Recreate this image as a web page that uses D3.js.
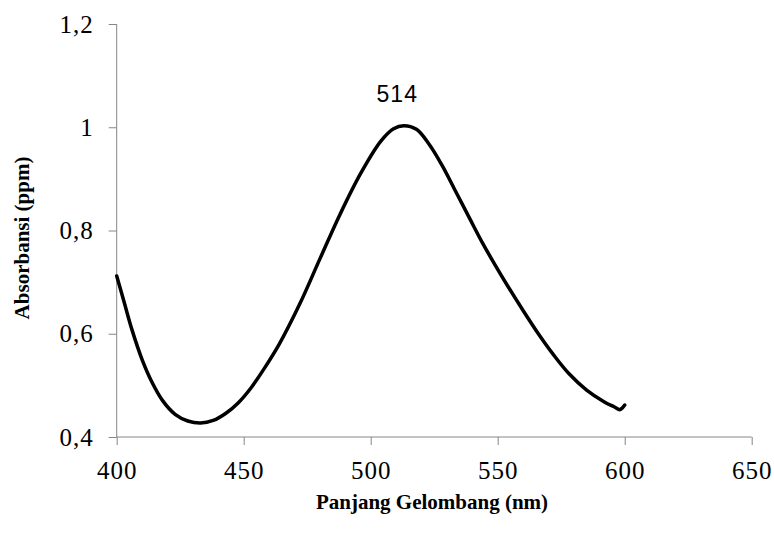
<!DOCTYPE html>
<html lang="en">
<head>
<meta charset="utf-8">
<title>Absorbansi</title>
<style>
  body { margin: 0; background: #fff; }
  text { fill: #000; }
</style>
</head>
<body>
<svg width="774" height="543"></svg>

<script src="https://cdn.jsdelivr.net/npm/d3@7"></script>
<script>
// values
var wavelength = [400, 403, 406, 410, 414, 418, 423, 428, 433, 438, 443, 448, 453,
                  458, 464, 472, 480, 488, 496, 504, 509, 513, 518, 523, 528, 533,
                  539, 544, 549, 554, 560, 566, 572, 578, 585, 592, 596, 598, 599, 600];
var absorbance = [0.712, 0.660, 0.608, 0.550, 0.505, 0.471, 0.444, 0.431, 0.427, 0.432,
                  0.446, 0.467, 0.496, 0.532, 0.580, 0.657, 0.745, 0.832, 0.910, 0.973,
                  0.997, 1.003, 0.996, 0.967, 0.927, 0.880, 0.823, 0.776, 0.733, 0.692,
                  0.645, 0.600, 0.559, 0.523, 0.491, 0.468, 0.458, 0.453, 0.456, 0.462];
var xTicks = [400, 450, 500, 550, 600, 650];
var yTicks = [0.4, 0.6, 0.8, 1.0, 1.2];
var peakLabel = { x: 514, y: 1.003, text: "514" };

var svg = d3.select("svg");
var serif = "'Liberation Serif', 'Times New Roman', serif";

var x = d3.scaleLinear().domain([400, 650]).range([116.7, 751.7]);
var y = d3.scaleLinear().domain([0.4, 1.2]).range([437, 24]);

var fmt = function(d) { return d3.format("~g")(d).replace(".", ","); };

// y axis
var gy = svg.append("g")
    .attr("transform", "translate(" + x.range()[0] + ",0)")
    .call(d3.axisLeft(y).tickValues(yTicks).tickSize(8).tickPadding(15).tickFormat(fmt));

// x axis
var gx = svg.append("g")
    .attr("transform", "translate(0," + y.range()[0] + ")")
    .call(d3.axisBottom(x).tickValues(xTicks).tickSize(8).tickPadding(16).tickFormat(d3.format("d")));

[gx, gy].forEach(function(g) {
    g.select(".domain").attr("stroke", "#868686");
    g.selectAll(".tick line").attr("stroke", "#868686");
    g.selectAll(".tick text")
        .attr("font-family", serif)
        .attr("font-size", 25)
        .attr("letter-spacing", 1)
        .attr("fill", "#000");
});
gy.select(".domain").attr("d", "M0," + y.range()[1] + "V" + y.range()[0]);
gx.select(".domain").attr("d", "M" + x.range()[0] + ",0H" + x.range()[1]);

// spectrum
var pts = wavelength.map(function(w, i) { return [w, absorbance[i]]; });
var line = d3.line()
    .x(function(d) { return x(d[0]); })
    .y(function(d) { return y(d[1]); })
    .curve(d3.curveCatmullRom.alpha(0.5));

svg.append("path")
    .datum(pts)
    .attr("fill", "none")
    .attr("stroke", "#000")
    .attr("stroke-width", 3.5)
    .attr("stroke-linejoin", "round")
    .attr("stroke-linecap", "round")
    .attr("d", line);

// peak label
svg.append("text")
    .attr("x", x(peakLabel.x) - 9)
    .attr("y", y(peakLabel.y) - 24)
    .attr("text-anchor", "middle")
    .attr("font-family", "'Liberation Sans', Arial, sans-serif")
    .attr("font-size", 23)
    .attr("letter-spacing", 1)
    .text(peakLabel.text);

// axis titles
svg.append("text")
    .attr("x", 432)
    .attr("y", 509)
    .attr("text-anchor", "middle")
    .attr("font-family", serif)
    .attr("font-weight", "bold")
    .attr("font-size", 21)
    .text("Panjang Gelombang (nm)");

svg.append("text")
    .attr("transform", "translate(29,238) rotate(-90)")
    .attr("text-anchor", "middle")
    .attr("font-family", serif)
    .attr("font-weight", "bold")
    .attr("font-size", 21)
    .text("Absorbansi (ppm)");
</script>
</body>
</html>
